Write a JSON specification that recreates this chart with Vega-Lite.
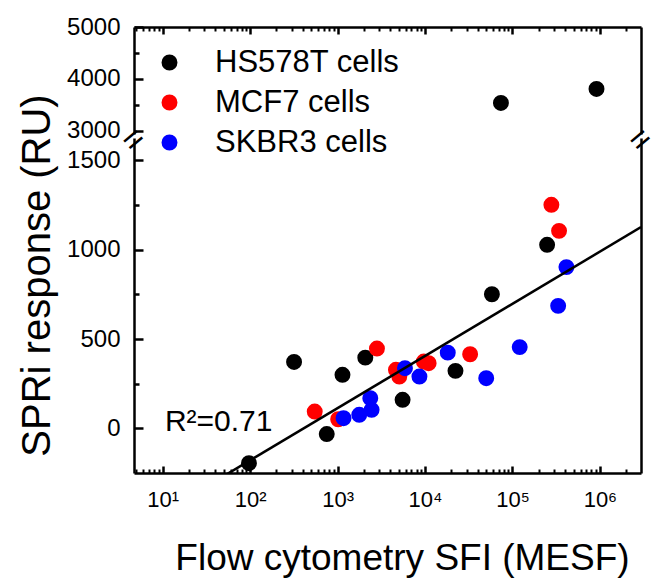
{
  "$schema": "https://vega.github.io/schema/vega-lite/v6.json",
  "background": "white",
  "padding": {"left": 16, "top": 15, "right": 10, "bottom": 5},
  "bounds": "flush",
  "config": {
    "view": {"stroke": null},
    "font": "Liberation Sans",
    "axis": {"labelFont": "Liberation Sans", "titleFont": "Liberation Sans", "labelColor": "black", "titleColor": "black", "domainColor": "black", "domainWidth": 2.5, "grid": false, "titleFontWeight": "normal"},
    "concat": {"spacing": 4}
  },
  "datasets": {
    "pts": [
      {"sfi": 97, "ru": -195, "cell": "HS578T cells"},
      {"sfi": 318, "ru": 372, "cell": "HS578T cells"},
      {"sfi": 752, "ru": -32, "cell": "HS578T cells"},
      {"sfi": 1138, "ru": 300, "cell": "HS578T cells"},
      {"sfi": 2075, "ru": 396, "cell": "HS578T cells"},
      {"sfi": 5540, "ru": 160, "cell": "HS578T cells"},
      {"sfi": 22300, "ru": 322, "cell": "HS578T cells"},
      {"sfi": 58200, "ru": 751, "cell": "HS578T cells"},
      {"sfi": 249000, "ru": 1028, "cell": "HS578T cells"},
      {"sfi": 73800, "ru": 3538, "cell": "HS578T cells"},
      {"sfi": 914000, "ru": 3808, "cell": "HS578T cells"},
      {"sfi": 548, "ru": 94, "cell": "MCF7 cells"},
      {"sfi": 1016, "ru": 51, "cell": "MCF7 cells"},
      {"sfi": 2820, "ru": 447, "cell": "MCF7 cells"},
      {"sfi": 4650, "ru": 328, "cell": "MCF7 cells"},
      {"sfi": 5080, "ru": 290, "cell": "MCF7 cells"},
      {"sfi": 9690, "ru": 374, "cell": "MCF7 cells"},
      {"sfi": 11000, "ru": 365, "cell": "MCF7 cells"},
      {"sfi": 32800, "ru": 415, "cell": "MCF7 cells"},
      {"sfi": 278600, "ru": 1252, "cell": "MCF7 cells"},
      {"sfi": 341000, "ru": 1106, "cell": "MCF7 cells"},
      {"sfi": 1170, "ru": 57, "cell": "SKBR3 cells"},
      {"sfi": 1770, "ru": 76, "cell": "SKBR3 cells"},
      {"sfi": 2450, "ru": 104, "cell": "SKBR3 cells"},
      {"sfi": 2366, "ru": 169, "cell": "SKBR3 cells"},
      {"sfi": 5900, "ru": 337, "cell": "SKBR3 cells"},
      {"sfi": 8630, "ru": 290, "cell": "SKBR3 cells"},
      {"sfi": 18200, "ru": 424, "cell": "SKBR3 cells"},
      {"sfi": 50100, "ru": 281, "cell": "SKBR3 cells"},
      {"sfi": 121000, "ru": 455, "cell": "SKBR3 cells"},
      {"sfi": 333000, "ru": 686, "cell": "SKBR3 cells"},
      {"sfi": 414000, "ru": 903, "cell": "SKBR3 cells"}
    ],
    "fit": [
      {"sfi": 50, "ru": -267},
      {"sfi": 2950000, "ru": 1127}
    ],
    "r2": [{"sfi": 10.6, "ru": 35, "label": "R²=0.71"}],
    "brk": [
      {"sfi": 4.7, "ru": 1612},
      {"sfi": 2950000, "ru": 1612}
    ]
  },
  "vconcat": [
    {
      "width": 507,
      "height": 107,
      "resolve": {"axis": {"x": "independent", "y": "independent"}},
      "layer": [
        {
          "data": {"name": "pts"},
          "transform": [{"filter": "datum.ru > 2000"}],
          "mark": {"type": "point", "filled": true, "shape": "circle", "size": 254, "opacity": 1},
          "encoding": {
            "x": {"field": "sfi", "type": "quantitative",
              "scale": {"type": "log", "domain": [4.7, 2950000], "nice": false},
              "axis": {"orient": "top", "title": null, "labels": false, "ticks": false, "domain": true}},
            "y": {"field": "ru", "type": "quantitative",
              "scale": {"domain": [2940, 5000], "nice": false, "zero": false},
              "axis": {"orient": "left", "title": null, "values": [3000, 4000, 5000], "format": "d",
                "labelFontSize": 24, "labelPadding": 14, "ticks": false, "domain": true}},
            "color": {"field": "cell", "type": "nominal",
              "scale": {"domain": ["HS578T cells", "MCF7 cells", "SKBR3 cells"], "range": ["#000000", "#ff0000", "#0000ff"]},
              "legend": {"orient": "none", "legendX": 20, "legendY": 20, "title": null, "labelFontSize": 31, "labelFont": "Liberation Sans", "labelColor": "black", "labelLimit": 0, "symbolSize": 254, "symbolType": "circle", "symbolStrokeWidth": 0, "rowPadding": 8, "labelOffset": 30, "padding": 0}}
          }
        },
        {
          "data": {"name": "pts"},
          "transform": [{"filter": "datum.ru > 2000"}],
          "mark": {"type": "point", "filled": true, "opacity": 0},
          "encoding": {
            "x": {"field": "sfi", "type": "quantitative",
              "axis": {"orient": "bottom", "offset": -107, "title": null, "labels": false, "domain": false, "ticks": true, "tickSize": 7, "tickColor": "black", "tickWidth": 2.5,
                "values": [10, 100, 1000, 10000, 100000, 1000000]}},
            "y": {"field": "ru", "type": "quantitative",
              "axis": {"orient": "right", "title": null, "labels": false, "ticks": false, "domain": true}}
          }
        },
        {
          "data": {"name": "pts"},
          "transform": [{"filter": "datum.ru > 2000"}],
          "mark": {"type": "point", "filled": true, "opacity": 0},
          "encoding": {
            "x": {"field": "sfi", "type": "quantitative",
              "axis": {"orient": "bottom", "offset": -107, "title": null, "labels": false, "domain": false, "ticks": true, "tickSize": 4, "tickColor": "black", "tickWidth": 2,
                "values": [5,6,7,8,9,20,30,40,50,60,70,80,90,200,300,400,500,600,700,800,900,2000,3000,4000,5000,6000,7000,8000,9000,20000,30000,40000,50000,60000,70000,80000,90000,200000,300000,400000,500000,600000,700000,800000,900000,2000000]}},
            "y": {"field": "ru", "type": "quantitative",
              "axis": {"orient": "right", "offset": -507, "title": null, "labels": false, "domain": false, "ticks": true, "tickSize": 9, "tickColor": "black", "tickWidth": 2.5, "values": [3000, 4000, 5000]}}
          }
        },
        {
          "data": {"name": "pts"},
          "transform": [{"filter": "datum.ru > 2000"}],
          "mark": {"type": "point", "filled": true, "opacity": 0},
          "encoding": {
            "x": {"field": "sfi", "type": "quantitative", "axis": null},
            "y": {"field": "ru", "type": "quantitative",
              "axis": {"orient": "right", "offset": -507, "title": null, "labels": false, "domain": false, "ticks": true, "tickSize": 5, "tickColor": "black", "tickWidth": 2.5, "values": [3500, 4500]}}
          }
        }
      ]
    },
    {
      "width": 507,
      "height": 335,
      "resolve": {"axis": {"x": "independent", "y": "independent"}},
      "layer": [
        {
          "data": {"name": "pts"},
          "transform": [{"filter": "datum.ru < 2000"}],
          "mark": {"type": "point", "filled": true, "shape": "circle", "size": 254, "opacity": 1},
          "encoding": {
            "x": {"field": "sfi", "type": "quantitative",
              "scale": {"type": "log", "domain": [4.7, 2950000], "nice": false},
              "axis": {"orient": "bottom", "title": "Flow cytometry SFI (MESF)", "titleFontSize": 37, "titlePadding": 30, "titleX": 268,
                "values": [10, 100, 1000, 10000, 100000, 1000000], "ticks": false, "domain": true,
                "labelExpr": "datum.value == 10 ? '10¹' : datum.value == 100 ? '10²' : datum.value == 1000 ? '10³' : datum.value == 10000 ? '10⁴' : datum.value == 100000 ? '10⁵' : datum.value == 1000000 ? '10⁶' : ''",
                "labelFontSize": 22, "labelPadding": 16, "labelFlush": false}},
            "y": {"field": "ru", "type": "quantitative",
              "scale": {"domain": [-250, 1626], "nice": false, "zero": false},
              "axis": {"orient": "left", "title": "SPRi response (RU)", "titleFontSize": 40, "titleX": -77, "titleY": 137,
                "values": [0, 500, 1000, 1500], "format": "d", "ticks": false, "domain": true,
                "labelFontSize": 24, "labelPadding": 14}},
            "color": {"field": "cell", "type": "nominal",
              "scale": {"domain": ["HS578T cells", "MCF7 cells", "SKBR3 cells"], "range": ["#000000", "#ff0000", "#0000ff"]},
              "legend": null}
          }
        },
        {
          "data": {"name": "fit"},
          "mark": {"type": "line", "color": "black", "strokeWidth": 2.5, "clip": true},
          "encoding": {
            "x": {"field": "sfi", "type": "quantitative",
              "axis": {"orient": "top", "offset": -335, "title": null, "labels": false, "domain": false, "ticks": true, "tickSize": 7, "tickColor": "black", "tickWidth": 2.5,
                "values": [10, 100, 1000, 10000, 100000, 1000000]}},
            "y": {"field": "ru", "type": "quantitative",
              "axis": {"orient": "right", "title": null, "labels": false, "ticks": false, "domain": true}}
          }
        },
        {
          "data": {"name": "r2"},
          "mark": {"type": "text", "align": "left", "baseline": "middle", "fontSize": 30, "font": "Liberation Sans", "color": "black"},
          "encoding": {
            "x": {"field": "sfi", "type": "quantitative",
              "axis": {"orient": "top", "offset": -335, "title": null, "labels": false, "domain": false, "ticks": true, "tickSize": 4, "tickColor": "black", "tickWidth": 2,
                "values": [5,6,7,8,9,20,30,40,50,60,70,80,90,200,300,400,500,600,700,800,900,2000,3000,4000,5000,6000,7000,8000,9000,20000,30000,40000,50000,60000,70000,80000,90000,200000,300000,400000,500000,600000,700000,800000,900000,2000000]}},
            "y": {"field": "ru", "type": "quantitative",
              "axis": {"orient": "right", "offset": -507, "title": null, "labels": false, "domain": false, "ticks": true, "tickSize": 9, "tickColor": "black", "tickWidth": 2.5, "values": [0, 500, 1000, 1500]}},
            "text": {"field": "label"}
          }
        },
        {
          "data": {"name": "brk"},
          "mark": {"type": "text", "align": "center", "baseline": "middle", "fontSize": 34, "angle": -40, "font": "Liberation Sans", "color": "black", "text": "="},
          "encoding": {
            "x": {"field": "sfi", "type": "quantitative", "axis": null},
            "y": {"field": "ru", "type": "quantitative",
              "axis": {"orient": "right", "offset": -507, "title": null, "labels": false, "domain": false, "ticks": true, "tickSize": 5, "tickColor": "black", "tickWidth": 2.5, "values": [250, 750, 1250]}}
          }
        }
      ]
    }
  ]
}
